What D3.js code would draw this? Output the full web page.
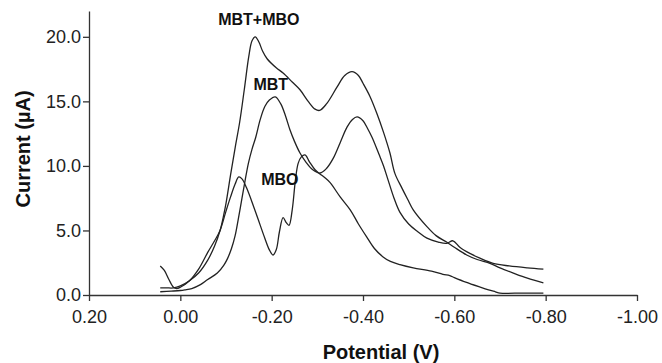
<!DOCTYPE html>
<html>
<head>
<meta charset="utf-8">
<script src="https://cdn.jsdelivr.net/npm/d3@7/dist/d3.min.js"></script>
<style>
  body { margin: 0; background: #fff; }
  svg { display: block; font-family: "Liberation Sans", Arial, sans-serif; }
</style>
</head>
<body>
<svg width="662" height="363"></svg>
<script>
// potential (V), current (uA)
const mbtMbo = [
    [0.044, 0.55], [0.03, 0.55], [0.015, 0.55], [0.0, 0.7], [-0.02, 1.1], [-0.04, 1.7],
    [-0.06, 2.7], [-0.075, 3.8], [-0.087, 5.0], [-0.095, 6.2], [-0.10, 7.1], [-0.11, 9.3],
    [-0.12, 11.4], [-0.13, 13.4], [-0.14, 15.9], [-0.15, 18.5], [-0.157, 19.7], [-0.164, 20.0],
    [-0.172, 19.6], [-0.18, 18.9], [-0.19, 18.3], [-0.21, 17.6], [-0.225, 17.2], [-0.245, 16.5],
    [-0.262, 15.9], [-0.28, 15.0], [-0.295, 14.4], [-0.305, 14.3], [-0.32, 14.8], [-0.343, 16.1],
    [-0.36, 17.0], [-0.376, 17.3], [-0.39, 17.0], [-0.40, 16.4], [-0.415, 15.4], [-0.43, 14.1],
    [-0.445, 12.6], [-0.459, 11.0], [-0.47, 9.4], [-0.485, 8.3], [-0.498, 7.4], [-0.51, 6.6],
    [-0.54, 5.3], [-0.56, 4.6], [-0.583, 4.1], [-0.60, 3.7], [-0.627, 3.1], [-0.65, 2.75],
    [-0.678, 2.45], [-0.70, 2.1], [-0.729, 1.7], [-0.76, 1.3], [-0.795, 0.93]
];

const mbt = [
    [0.044, 0.25], [0.02, 0.3], [0.0, 0.35], [-0.01, 0.4], [-0.025, 0.5], [-0.044, 0.8],
    [-0.06, 1.2], [-0.081, 1.7], [-0.095, 2.3], [-0.103, 2.8], [-0.112, 3.6], [-0.12, 4.6],
    [-0.127, 5.9], [-0.135, 7.5], [-0.142, 8.9], [-0.149, 10.2], [-0.157, 11.3], [-0.165, 12.2],
    [-0.175, 13.6], [-0.185, 14.6], [-0.195, 15.1], [-0.208, 15.35], [-0.22, 14.8], [-0.23, 13.9],
    [-0.24, 12.8], [-0.25, 11.9], [-0.262, 11.0], [-0.275, 10.3], [-0.29, 9.7], [-0.306, 9.45],
    [-0.32, 9.8], [-0.335, 10.6], [-0.35, 11.8], [-0.365, 13.0], [-0.377, 13.6], [-0.387, 13.8],
    [-0.40, 13.5], [-0.41, 12.9], [-0.42, 12.2], [-0.435, 10.9], [-0.445, 10.0], [-0.455, 8.9],
    [-0.468, 7.5], [-0.481, 6.4], [-0.50, 5.5], [-0.52, 4.9], [-0.54, 4.4], [-0.565, 4.1],
    [-0.583, 4.0], [-0.597, 4.2], [-0.612, 3.7], [-0.635, 3.2], [-0.656, 2.85], [-0.685, 2.45],
    [-0.72, 2.25], [-0.76, 2.1], [-0.795, 2.0]
];

const mbo = [
    [0.044, 2.25], [0.035, 1.9], [0.025, 1.2], [0.015, 0.6], [0.008, 0.5], [0.0, 0.6],
    [-0.02, 1.1], [-0.04, 2.0], [-0.06, 3.3], [-0.075, 4.2], [-0.087, 5.0], [-0.10, 6.5],
    [-0.11, 7.6], [-0.12, 8.6], [-0.128, 9.15], [-0.135, 9.0], [-0.145, 8.3], [-0.16, 6.9],
    [-0.17, 5.9], [-0.185, 4.4], [-0.195, 3.5], [-0.203, 3.1], [-0.21, 3.5], [-0.217, 4.9],
    [-0.225, 6.0], [-0.232, 5.6], [-0.238, 5.4], [-0.245, 6.6], [-0.252, 8.9], [-0.258, 10.2],
    [-0.265, 10.7], [-0.273, 10.85], [-0.283, 10.3], [-0.295, 9.7], [-0.305, 9.4], [-0.316, 9.1],
    [-0.328, 8.7], [-0.35, 7.6], [-0.372, 6.6], [-0.39, 5.5], [-0.408, 4.5], [-0.425, 3.6],
    [-0.444, 2.95], [-0.46, 2.6], [-0.481, 2.35], [-0.51, 2.1], [-0.55, 1.85], [-0.575, 1.6],
    [-0.59, 1.5], [-0.60, 1.35], [-0.625, 1.0], [-0.656, 0.62], [-0.675, 0.4], [-0.69, 0.25],
    [-0.70, 0.15], [-0.75, 0.15], [-0.795, 0.15]
];

const xTicks = [0.2, 0.0, -0.2, -0.4, -0.6, -0.8, -1.0];
const yTicks = [0, 5, 10, 15, 20];

const seriesNames = ["MBT+MBO", "MBT", "MBO"];

const svg = d3.select("svg");

const x = d3.scaleLinear().domain([0.2, -1.0]).range([89, 637]);
const y = d3.scaleLinear().domain([0, 22]).range([295, 11]);

// keep the plain hyphen the original uses
const fmt = (f) => (d) => d3.format(f)(d).replace("\u2212", "-");

const xAxis = svg.append("g")
    .attr("transform", `translate(0,${y(0)})`)
    .call(d3.axisBottom(x).tickValues(xTicks).tickFormat(fmt(".2f")).tickSize(6).tickPadding(9).tickSizeOuter(0));

const yAxis = svg.append("g")
    .attr("transform", `translate(${x(0.2)},0)`)
    .call(d3.axisLeft(y).tickValues(yTicks).tickFormat(fmt(".1f")).tickSize(6).tickPadding(2).tickSizeOuter(0));

[xAxis, yAxis].forEach(g => {
    g.selectAll("path, line").attr("stroke", "#333").attr("stroke-width", 1.3);
    g.selectAll("text").attr("fill", "#222").style("font-size", "18px").style("font-family", "inherit");
});

const line = d3.line()
    .x(d => x(d[0]))
    .y(d => y(d[1]))
    .curve(d3.curveCatmullRom.alpha(0.5));

[mbtMbo, mbt, mbo].forEach(s => {
    svg.append("path")
        .attr("d", line(s))
        .attr("fill", "none")
        .attr("stroke", "#222")
        .attr("stroke-width", 1.3);
});

// curve labels, placed in data space
const labelAt = [[-0.172, 20.9], [-0.198, 15.9], [-0.218, 8.5]];
seriesNames.forEach((name, i) => {
    svg.append("text")
        .attr("x", x(labelAt[i][0]))
        .attr("y", y(labelAt[i][1]))
        .attr("text-anchor", "middle")
        .attr("font-weight", "bold")
        .attr("font-size", 16)
        .attr("fill", "#111")
        .text(name);
});

svg.append("text")
    .attr("x", 381)
    .attr("y", 359)
    .attr("text-anchor", "middle")
    .attr("font-weight", "bold")
    .attr("font-size", 20)
    .attr("fill", "#111")
    .text("Potential (V)");

svg.append("text")
    .attr("transform", "translate(30,149) rotate(-90)")
    .attr("text-anchor", "middle")
    .attr("font-weight", "bold")
    .attr("font-size", 20)
    .attr("fill", "#111")
    .text("Current (\u00b5A)");
</script>
</body>
</html>
